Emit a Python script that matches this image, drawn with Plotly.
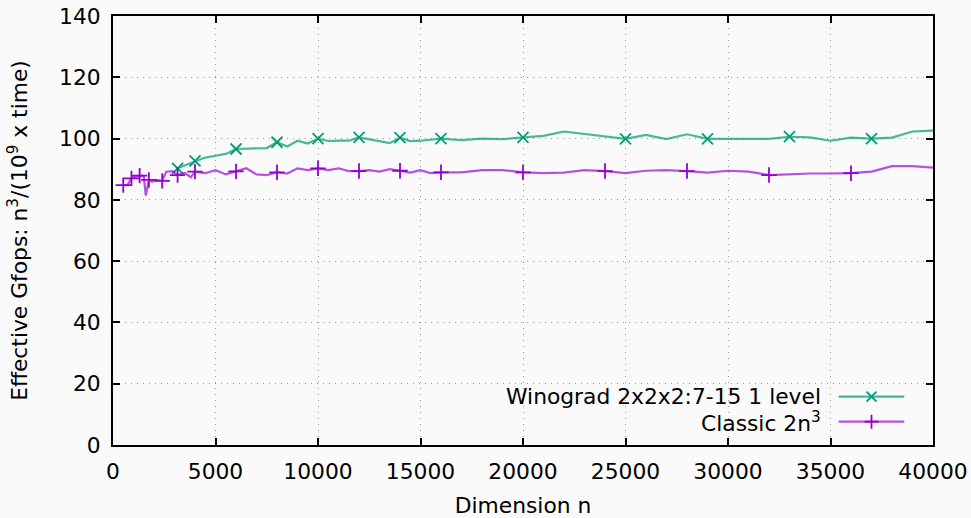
import plotly.graph_objects as go

# ---- data ----
classic_n = [500, 700, 900, 1100, 1300, 1500, 1600, 1750, 1900, 2100, 2400, 2600, 2900,
             3150, 3500, 3800, 4000, 4500, 5000, 5500, 6000, 6500, 7000, 7500, 8000,
             8500, 9000, 9500, 10000, 10500, 11000, 11500, 12000, 12500, 13000, 13500,
             14000, 14500, 15000, 15500, 16000, 17000, 18000, 19000, 20000, 21000,
             22000, 23000, 24000, 25000, 26000, 27000, 28000, 29000, 30000, 31000,
             32000, 33000, 34000, 35000, 36000, 37000, 38000, 39000, 40000]
classic_g = [84.8, 84.8, 87.0, 87.6, 87.9, 87.8, 81.4, 86.5, 85.9, 86.5, 86.2, 89.2, 89.4,
             88.1, 88.8, 87.4, 89.2, 88.7, 89.7, 88.3, 89.3, 90.3, 88.3, 88.1, 89.0,
             88.6, 90.3, 89.7, 90.3, 89.7, 90.3, 89.4, 89.4, 89.7, 89.2, 90.0,
             89.5, 88.9, 89.7, 88.7, 89.0, 89.0, 89.7, 89.7, 89.0, 88.7,
             88.9, 89.7, 89.4, 88.7, 89.5, 89.7, 89.4, 88.9, 89.5, 89.2,
             88.1, 88.4, 88.6, 88.6, 88.7, 89.2, 91.0, 91.0, 90.5]
classic_marked = [500, 900, 1300, 1750, 2400, 3150, 4000, 6000,
                  8000, 10000, 12000, 14000, 16000, 20000, 24000, 28000, 32000, 36000]

wino_n = [3150, 3500, 4000, 4500, 5000, 5500, 6000, 6500, 7000, 7500, 8000, 8500, 9000,
          9500, 10000, 10500, 11000, 11500, 12000, 12500, 13000, 13500, 14000, 14500,
          15000, 15500, 16000, 17000, 18000, 19000, 20000, 21000, 22000, 23500, 25000,
          26000, 27000, 28000, 29000, 30000, 31000, 32000, 33000, 34000, 35000, 36000,
          37000, 38000, 39000, 40000]
wino_g = [90.3, 91.2, 92.7, 93.8, 94.4, 95.0, 96.6, 96.7, 96.7, 96.9, 98.8, 97.4, 99.3,
          98.4, 100.0, 99.2, 99.3, 99.3, 100.4, 99.8, 99.0, 98.5, 100.3, 99.2,
          99.3, 99.6, 100.0, 99.5, 100.0, 99.8, 100.4, 100.9, 102.3, 101.2, 99.9,
          101.2, 99.8, 101.4, 99.9, 99.9, 99.9, 99.9, 100.6, 100.4, 99.3, 100.3,
          100.0, 100.3, 102.3, 102.6]
wino_marked = [3150, 4000, 6000, 8000, 10000, 12000, 14000, 16000, 20000, 25000,
               29000, 33000, 37000]

x_ticks = list(range(0, 40001, 5000))
y_ticks = list(range(0, 141, 20))

GREEN = "#009e73"
GREEN_L = "rgba(0,158,115,0.72)"
PURPLE = "#9400d3"
PURPLE_L = "rgba(148,0,211,0.68)"
FONT = "DejaVu Sans"
FS = 21.8
BG = "#fafafa"

fig = go.Figure()

def add_series(xs, ys, marked, line_col, mk_col, symbol, name):
    fig.add_trace(go.Scatter(x=xs, y=ys, mode="lines",
                             line=dict(color=line_col, width=2.2),
                             hoverinfo="skip", showlegend=False, name=name))
    mx = [x for x in xs if x in marked]
    my = [y for x, y in zip(xs, ys) if x in marked]
    fig.add_trace(go.Scatter(x=mx, y=my, mode="markers",
                             marker=dict(symbol=symbol, size=11, color=mk_col,
                                         line=dict(color=mk_col, width=1.8)),
                             showlegend=False, name=name))

add_series(wino_n, wino_g, wino_marked, GREEN_L, GREEN, "x-thin", "Winograd")
add_series(classic_n, classic_g, classic_marked, PURPLE_L, PURPLE, "cross-thin", "Classic")

# legend samples drawn on an overlay axis with a 0..1 range
leg_x = [0.885, 0.965]
leg_y = [0.1126, 0.0543]
for yy, lc, mc, sym in [(leg_y[0], GREEN_L, GREEN, "x-thin"), (leg_y[1], PURPLE_L, PURPLE, "cross-thin")]:
    fig.add_trace(go.Scatter(x=leg_x, y=[yy, yy], xaxis="x2", yaxis="y2", mode="lines",
                             line=dict(color=lc, width=2.2), showlegend=False, hoverinfo="skip"))
    fig.add_trace(go.Scatter(x=[sum(leg_x) / 2], y=[yy], xaxis="x2", yaxis="y2", mode="markers",
                             marker=dict(symbol=sym, size=10, color=mc, line=dict(color=mc, width=1.8)),
                             showlegend=False, hoverinfo="skip"))

fig.add_annotation(x=0.866, y=leg_y[0], xref="paper", yref="paper", xanchor="right", yanchor="middle",
                   text="Winograd 2x2x2:7-15 1 level", showarrow=False,
                   font=dict(family=FONT, size=FS, color="black"))
fig.add_annotation(x=0.866, y=leg_y[1], xref="paper", yref="paper", xanchor="right", yanchor="middle",
                   text="Classic 2n<sup>3</sup>", showarrow=False,
                   font=dict(family=FONT, size=FS, color="black"))

axis_common = dict(showline=True, linecolor="black", linewidth=2, mirror="ticks",
                   ticks="inside", ticklen=7, tickwidth=1.5, tickcolor="black",
                   showgrid=True, gridcolor="#9a9a9a", griddash="1px,5px", gridwidth=1,
                   zeroline=False, automargin=False,
                   tickfont=dict(family=FONT, size=FS, color="black"))

fig.update_layout(
    width=971, height=518,
    margin=dict(l=113, r=38, t=16, b=73),
    paper_bgcolor=BG, plot_bgcolor=BG,
    font=dict(family=FONT, size=FS, color="black"),
    xaxis=dict(range=[0, 40000], tickvals=x_ticks, ticktext=[str(v) for v in x_ticks],
               title=dict(text="Dimension n", font=dict(family=FONT, size=FS), standoff=18),
               ticklabelstandoff=6,
               **axis_common),
    yaxis=dict(range=[0, 140], tickvals=y_ticks, ticktext=[str(v) for v in y_ticks],
               title=dict(text="Effective Gfops: n<sup>3</sup>/(10<sup>9</sup> x time)",
                          font=dict(family=FONT, size=FS), standoff=25),
               ticklabelstandoff=6,
               **axis_common),
    xaxis2=dict(overlaying="x", range=[0, 1], visible=False, fixedrange=True),
    yaxis2=dict(overlaying="y", range=[0, 1], visible=False, fixedrange=True),
    showlegend=False,
)

fig.write_html("out.html")
